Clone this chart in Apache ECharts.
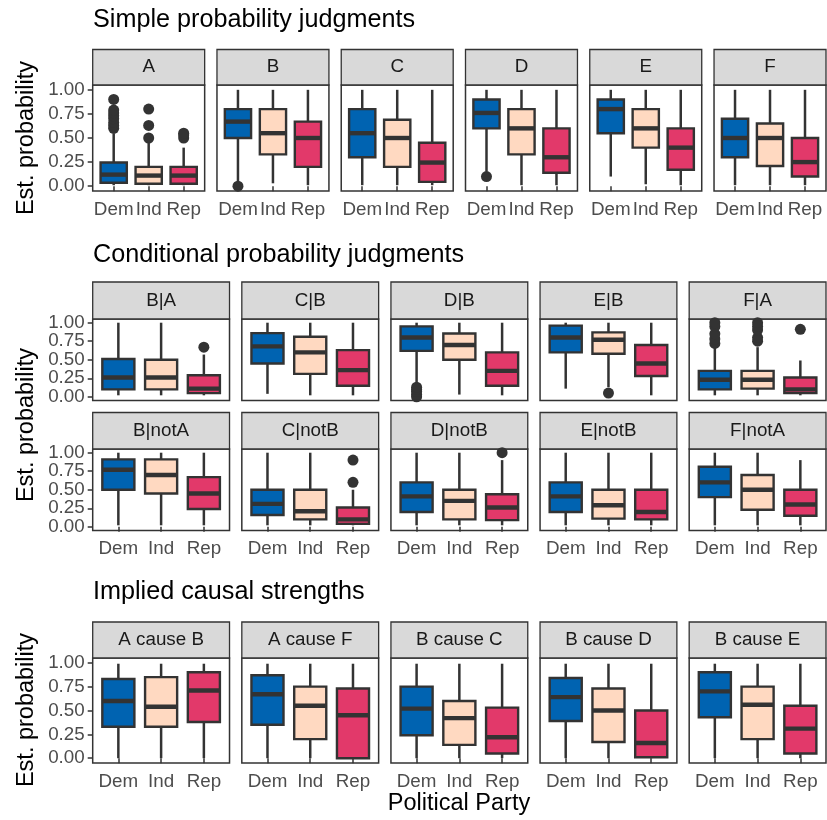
<!DOCTYPE html>
<html>
<head>
<meta charset="utf-8">
<script src="https://cdn.jsdelivr.net/npm/echarts@6/dist/echarts.min.js"></script>
<style>
  html, body { margin: 0; padding: 0; background: #fff; }
  #chart { width: 827px; height: 820px; }
</style>
</head>
<body>
<div id="chart"></div>
<script>
// categories
const parties = ['Dem', 'Ind', 'Rep']
const partyColors = ['#0063b1', '#ffd9c1', '#e2396a']
// y tick labels, split in two sets so the tight rows keep every label
const yTicksMain = [0, 0.5, 1]
const yTicksQuarter = [0.25, 0.75]

// box stats per panel: [min whisker, Q1, median, Q3, max whisker] for Dem, Ind, Rep
const simplePanels = ['A', 'B', 'C', 'D', 'E', 'F']
const simpleStats = [
  [[0.01, 0.035, 0.12, 0.245, 0.55], [0.01, 0.025, 0.11, 0.2, 0.45], [0.01, 0.025, 0.11, 0.2, 0.40]],
  [[0.05, 0.5, 0.67, 0.8, 1.0], [0.03, 0.33, 0.55, 0.8, 1.0], [0.01, 0.2, 0.5, 0.67, 1.0]],
  [[0.01, 0.3, 0.55, 0.8, 1.0], [0.01, 0.2, 0.5, 0.69, 1.0], [0.01, 0.045, 0.245, 0.45, 1.0]],
  [[0.15, 0.6, 0.76, 0.9, 1.0], [0.01, 0.33, 0.6, 0.8, 1.0], [0.01, 0.14, 0.3, 0.6, 1.0]],
  [[0.1, 0.55, 0.8, 0.9, 1.0], [0.02, 0.4, 0.6, 0.8, 1.0], [0.01, 0.17, 0.4, 0.6, 1.0]],
  [[0.01, 0.3, 0.5, 0.7, 1.0], [0.01, 0.21, 0.5, 0.65, 1.0], [0.01, 0.1, 0.25, 0.5, 1.0]]
]
const simpleOutliers = [
  [[0.6, 0.63, 0.66, 0.7, 0.73, 0.76, 0.79, 0.9], [0.5, 0.63, 0.8], [0.5, 0.53, 0.55]],
  [[0.0], [], []],
  [[], [], []],
  [[0.1], [], []],
  [[], [], []],
  [[], [], []]
]

const condPanels = ['B|A', 'C|B', 'D|B', 'E|B', 'F|A']
const condStats = [
  [[0.02, 0.1, 0.26, 0.51, 1.0], [0.02, 0.1, 0.26, 0.5, 1.0], [0.02, 0.05, 0.11, 0.29, 0.57]],
  [[0.04, 0.45, 0.68, 0.86, 1.0], [0.02, 0.31, 0.6, 0.81, 1.0], [0.02, 0.15, 0.36, 0.63, 1.0]],
  [[0.18, 0.62, 0.8, 0.95, 1.0], [0.03, 0.5, 0.7, 0.855, 1.0], [0.02, 0.15, 0.35, 0.6, 1.0]],
  [[0.11, 0.6, 0.8, 0.96, 1.0], [0.13, 0.58, 0.77, 0.87, 1.0], [0.02, 0.28, 0.45, 0.7, 1.0]],
  [[0.02, 0.1, 0.23, 0.35, 0.67], [0.02, 0.11, 0.23, 0.35, 0.67], [0.02, 0.05, 0.1, 0.26, 0.49]]
]
const condOutliers = [
  [[], [], [0.67]],
  [[], [], []],
  [[0.0, 0.03, 0.07, 0.1, 0.13], [], []],
  [[], [0.05], []],
  [[0.72, 0.78, 0.85, 0.95, 1.0], [0.75, 0.8, 0.9, 0.95, 1.0], [0.91]]
]

const notPanels = ['B|notA', 'C|notB', 'D|notB', 'E|notB', 'F|notA']
const notStats = [
  [[0.02, 0.5, 0.77, 0.91, 1.0], [0.02, 0.45, 0.7, 0.91, 1.0], [0.02, 0.24, 0.45, 0.67, 1.0]],
  [[0.02, 0.16, 0.31, 0.5, 1.0], [0.02, 0.1, 0.21, 0.5, 1.0], [0.02, 0.04, 0.1, 0.26, 0.5]],
  [[0.02, 0.2, 0.41, 0.6, 1.0], [0.02, 0.1, 0.35, 0.5, 1.0], [0.02, 0.09, 0.26, 0.44, 0.9]],
  [[0.02, 0.2, 0.41, 0.6, 1.0], [0.02, 0.11, 0.29, 0.5, 1.0], [0.02, 0.1, 0.2, 0.5, 1.0]],
  [[0.02, 0.4, 0.6, 0.81, 1.0], [0.02, 0.23, 0.5, 0.7, 1.0], [0.02, 0.15, 0.3, 0.5, 0.9]]
]
const notOutliers = [
  [[], [], []],
  [[], [], [0.6, 0.9]],
  [[], [], [1.0]],
  [[], [], []],
  [[], [], []]
]

const causePanels = ['A cause B', 'A cause F', 'B cause C', 'B cause D', 'B cause E']
const causeStats = [
  [[0.0, 0.33, 0.6, 0.83, 0.99], [0.0, 0.33, 0.54, 0.85, 0.99], [0.0, 0.38, 0.71, 0.9, 0.99]],
  [[0.0, 0.35, 0.67, 0.87, 0.99], [0.0, 0.2, 0.55, 0.75, 0.99], [0.0, 0.0, 0.45, 0.73, 0.99]],
  [[0.0, 0.24, 0.52, 0.75, 0.99], [0.0, 0.14, 0.42, 0.6, 0.99], [0.0, 0.05, 0.22, 0.53, 0.99]],
  [[0.0, 0.39, 0.64, 0.84, 0.99], [0.0, 0.17, 0.5, 0.73, 0.99], [0.0, 0.01, 0.16, 0.5, 0.99]],
  [[0.0, 0.43, 0.7, 0.9, 0.99], [0.0, 0.2, 0.56, 0.75, 0.99], [0.0, 0.05, 0.31, 0.55, 0.99]]
]
const causeOutliers = [
  [[], [], []], [[], [], []], [[], [], []], [[], [], []], [[], [], []]
]

// layout
const FONT = '"Liberation Sans", Arial, sans-serif'
const LEFT = 92.7
const TOTAL_W = 733.3
const GAP = 12.3
const SMALL = 18.8
const rows = [
  { panels: simplePanels, stats: simpleStats, outliers: simpleOutliers, stripTop: 49.5, top: 85, height: 106, xLabels: true },
  { panels: condPanels, stats: condStats, outliers: condOutliers, stripTop: 282, top: 319, height: 81.5, xLabels: false },
  { panels: notPanels, stats: notStats, outliers: notOutliers, stripTop: 412.5, top: 449, height: 81.5, xLabels: true },
  { panels: causePanels, stats: causeStats, outliers: causeOutliers, stripTop: 622, top: 658, height: 105, xLabels: true }
]

const DARK = '#333333'
const WHISKER = 2.5

const renderBox = (params, api) => {
  const x = api.value(0)
  const pLo = api.coord([x, api.value(1)])
  const pQ1 = api.coord([x, api.value(2)])
  const pMed = api.coord([x, api.value(3)])
  const pQ3 = api.coord([x, api.value(4)])
  const pHi = api.coord([x, api.value(5)])
  const w = api.size([0.75, 0])[0]
  const cx = pMed[0]
  return {
    type: 'group',
    children: [
      // whiskers as thin filled bars
      { type: 'rect', shape: { x: cx - WHISKER / 2, y: pHi[1], width: WHISKER, height: pQ3[1] - pHi[1] },
        style: { fill: DARK } },
      { type: 'rect', shape: { x: cx - WHISKER / 2, y: pQ1[1], width: WHISKER, height: pLo[1] - pQ1[1] },
        style: { fill: DARK } },
      { type: 'rect', shape: { x: cx - w / 2, y: pQ3[1], width: w, height: pQ1[1] - pQ3[1] },
        style: { fill: partyColors[x - 1], stroke: DARK, lineWidth: 2.4 } },
      { type: 'rect', shape: { x: cx - w / 2, y: pMed[1] - 2.2, width: w, height: 4.4 },
        style: { fill: DARK } }
    ]
  }
}

const grids = []
const xAxes = []
const yAxes = []
const series = []
const graphics = []

const makeYAxis = (gridIndex, show, ticks) => ({
  type: 'value', gridIndex: gridIndex, min: -0.05, max: 1.05, position: 'left',
  axisLine: { show: false }, splitLine: { show: false },
  axisTick: { show: show, length: 5, customValues: ticks, lineStyle: { color: DARK, width: 1.5 } },
  axisLabel: { show: show, customValues: ticks, margin: 8, hideOverlap: false,
    formatter: v => v.toFixed(2), color: '#4d4d4d', fontSize: SMALL, fontFamily: FONT }
})

rows.forEach(row => {
  const n = row.panels.length
  const w = (TOTAL_W - GAP * (n - 1)) / n
  row.panels.forEach((name, i) => {
    const left = LEFT + i * (w + GAP)
    const idx = grids.length
    grids.push({ left: left, top: row.top, width: w, height: row.height,
      show: true, borderColor: DARK, borderWidth: 1.5, backgroundColor: '#fff' })
    xAxes.push({
      type: 'value', gridIndex: idx, min: 0.4, max: 3.6,
      axisLine: { show: false }, splitLine: { show: false },
      axisTick: { show: row.xLabels, length: 5, customValues: [1, 2, 3], lineStyle: { color: DARK, width: 1.5 } },
      axisLabel: { show: row.xLabels, customValues: [1, 2, 3], margin: 9, hideOverlap: false,
        formatter: v => parties[Math.round(v) - 1], color: '#4d4d4d', fontSize: SMALL, fontFamily: FONT }
    })
    const yIdx = yAxes.length
    yAxes.push(makeYAxis(idx, i === 0, yTicksMain))
    yAxes.push(makeYAxis(idx, i === 0, yTicksQuarter))

    const pts = []
    row.outliers[i].forEach((vals, p) => vals.forEach(v => pts.push([p + 1, v])))
    series.push({
      type: 'scatter', xAxisIndex: idx, yAxisIndex: yIdx, data: pts,
      symbolSize: 11, itemStyle: { color: DARK, opacity: 1 }, silent: true, z: 2
    })
    series.push({
      type: 'custom', xAxisIndex: idx, yAxisIndex: yIdx,
      data: row.stats[i].map((s, p) => [p + 1].concat(s)),
      renderItem: renderBox, silent: true, z: 3
    })
    // facet strip
    graphics.push({ type: 'rect', shape: { x: left, y: row.stripTop, width: w, height: row.top - row.stripTop },
      style: { fill: '#d9d9d9', stroke: DARK, lineWidth: 1.3 } })
    graphics.push({ type: 'text', x: left + w / 2, y: (row.stripTop + row.top) / 2,
      style: { text: name, fill: '#1a1a1a', fontSize: SMALL, fontFamily: FONT, align: 'center', verticalAlign: 'middle' } })
  })
})

// section titles and axis titles
const titleText = (text, y) => ({ type: 'text', x: 93, y: y,
  style: { text: text, fill: '#000', fontSize: 25.2, fontFamily: FONT, align: 'left', verticalAlign: 'middle' } })
graphics.push(titleText('Simple probability judgments', 20))
graphics.push(titleText('Conditional probability judgments', 255))
graphics.push(titleText('Implied causal strengths', 592))
const yTitle = y => ({ type: 'text', x: 27, y: y, rotation: Math.PI / 2,
  style: { text: 'Est. probability', fill: '#000', fontSize: 23.5, fontFamily: FONT, align: 'center', verticalAlign: 'middle' } })
graphics.push(yTitle(138), yTitle(425), yTitle(710))
graphics.push({ type: 'text', x: 459, y: 804,
  style: { text: 'Political Party', fill: '#000', fontSize: 23.5, fontFamily: FONT, align: 'center', verticalAlign: 'middle' } })

const chart = echarts.init(document.getElementById('chart'), null, { renderer: 'canvas' })
chart.setOption({
  animation: false,
  backgroundColor: '#fff',
  grid: grids,
  xAxis: xAxes,
  yAxis: yAxes,
  series: series,
  graphic: graphics
})
</script>
</body>
</html>
